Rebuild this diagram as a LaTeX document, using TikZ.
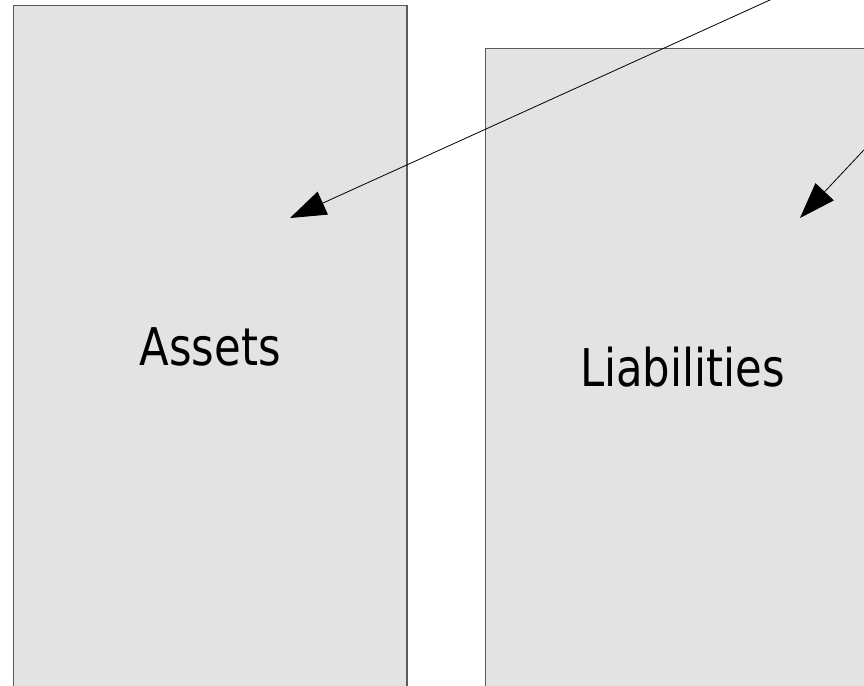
\documentclass[tikz,border=0pt]{standalone}
\usepackage{fontspec}
\usepackage{tikz}
\usetikzlibrary{
    arrows.meta,
    positioning
}
\newfontfamily\boxfont[FakeStretch=0.834]{DejaVu Sans}
\definecolor{boxfill}{HTML}{E3E3E3}
\definecolor{boxline}{HTML}{5A5A5A}
\tikzset{
    ledger/.style={draw=boxline, fill=boxfill, line width=1.6pt, rectangle,
        inner sep=0pt, font=\boxfont\fontsize{52}{60}\selectfont},
    pointer/.style={draw=black, line width=0.8pt,
        -{Triangle[length=36pt, width=25pt]}}
}

\begin{document}
\begin{tikzpicture}[x=1pt, y=-1pt]
                                \useasboundingbox (0, 0) rectangle (864, 685);
                                \clip (0, 0) rectangle (864, 685);
                                \node[ledger, minimum width=393.5pt, minimum height=682pt] (assets) at (210.25, 346.5) {Assets};
                                \node[ledger, minimum width=394pt, minimum height=638pt] (liabilities) at (682.5, 367.5) {Liabilities};
                                \coordinate (assetsfrom) at (836, -30);
                                \coordinate (assetsin) at (290, 218);
                                \coordinate (liabfrom) at (892, 120);
                                \coordinate (liabin) at (800, 218);
                                \draw[pointer] (assetsfrom) -- (assetsin);
                                \draw[pointer] (liabfrom) -- (liabin);
                            \end{tikzpicture}
\end{document}
